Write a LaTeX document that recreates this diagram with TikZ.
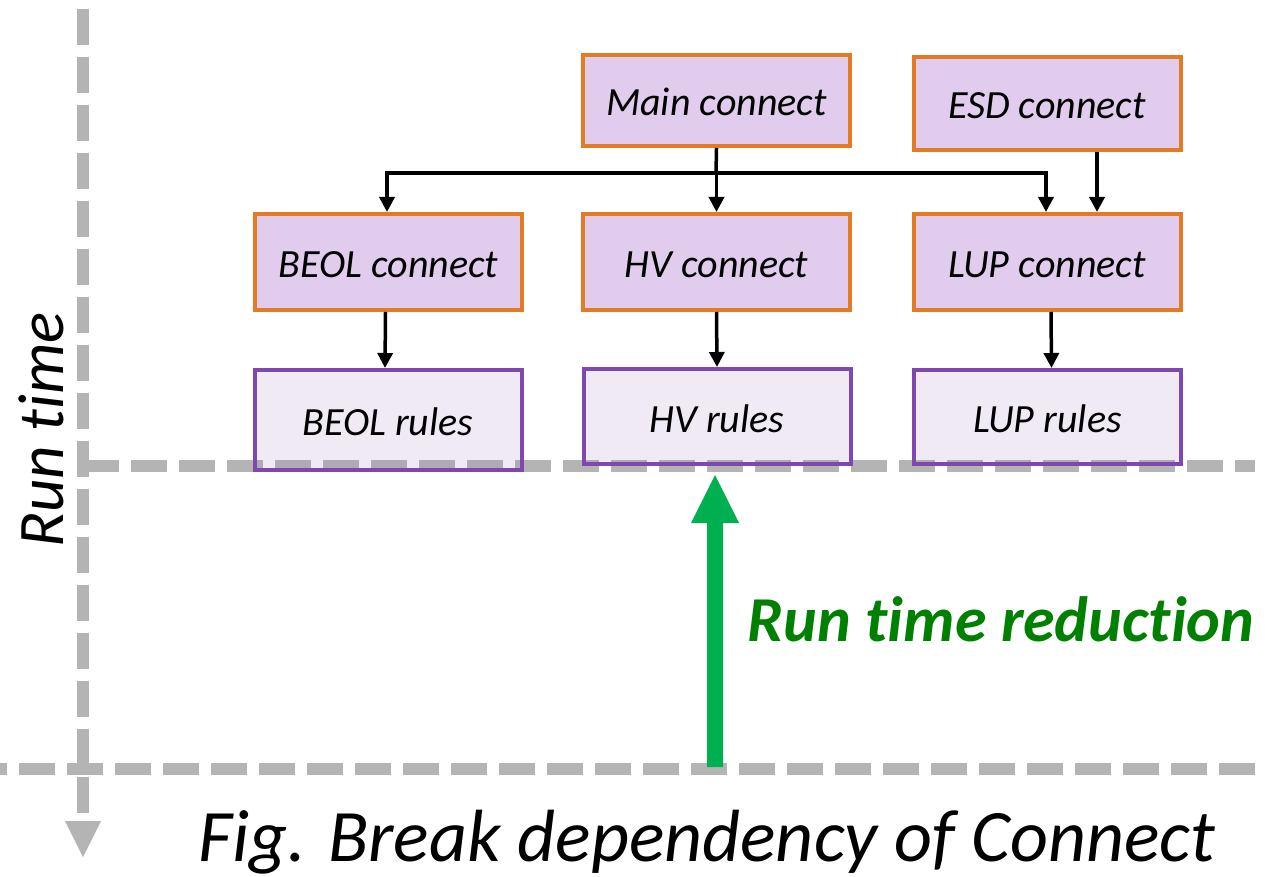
\documentclass[tikz,border=0pt]{standalone}
\usepackage{fontspec}
\setmainfont{Carlito}[Ligatures=NoCommon]
\usetikzlibrary{arrows.meta}
\definecolor{orangeC}{RGB}{226,123,36}
\definecolor{conFill}{RGB}{225,204,238}
\definecolor{purpleC}{RGB}{128,71,176}
\definecolor{ruleFill}{RGB}{155,115,188}
\definecolor{grayL}{RGB}{180,180,180}
\definecolor{greenA}{RGB}{0,176,80}
\definecolor{greenT}{RGB}{0,128,0}
\begin{document}
\begin{tikzpicture}[x=1pt,y=-1pt,
  boxtext/.style={inner sep=0pt, text height=31pt, text depth=0pt,
    font=\fontsize{40}{48}\selectfont\itshape},
  conbox/.style={boxtext, draw=orangeC, line width=4pt, fill=conFill,
    minimum width=267pt},
  rulebox/.style={boxtext, draw=purpleC, line width=4pt, fill=ruleFill,
    fill opacity=0.15, text opacity=1, minimum width=267pt},
  arr/.style={line width=3.5pt, -{Triangle[length=15pt,width=15pt]}},
  gdash/.style={draw=grayL, line width=12pt, dash pattern=on 36pt off 12pt}]
\useasboundingbox (0,0) rectangle (1281,877);
\fill[white] (0,0) rectangle (1281,877);

% axes
\draw[gdash] (83,9) -- (83,813);
\fill[grayL] (65,821) -- (101,821) -- (83,857) -- cycle;
\draw[gdash] (83,466) -- (1255,466);
\draw[gdash] (-29,769) -- (1255,769);

% boxes
\node[conbox, minimum height=91pt] (main) at (716.5,100.5) {Main connect};
\node[conbox, minimum height=93pt] (esd) at (1047,103.5) {ESD connect};
\node[conbox, minimum height=96pt] (beol) at (388.5,262) {BEOL connect};
\node[conbox, minimum height=96pt] (hv) at (716.5,262) {HV connect};
\node[conbox, minimum height=96pt] (lup) at (1047,262) {LUP connect};
\node[rulebox, minimum height=100pt] (beolr) at (388,420) {BEOL rules};
\node[rulebox, minimum height=95pt] (hvr) at (717,416.5) {HV rules};
\node[rulebox, minimum height=94pt] (lupr) at (1047.5,417) {LUP rules};

% connectors
\coordinate (j) at (716,173);
\draw[arr] (main.south) -- (hv.north);
\draw[line width=3.5pt] (main.south) -- (j);
\draw[arr] (j) -| ([xshift=-1.5pt]beol.north);
\draw[arr] (j) -| ([xshift=-1pt]lup.north);
\draw[arr] ([xshift=50pt]esd.south) -- ([xshift=50pt]lup.north);
\draw[arr] ([xshift=-3pt]beol.south) -- ([xshift=-3pt]beolr.north);
\draw[arr] (hv.south) -- (hvr.north);
\draw[arr] ([xshift=4pt]lup.south) -- ([xshift=4pt]lupr.north);

% green arrow
\fill[greenA] (707,767) -- (707,523) -- (691,523) -- (715,475) -- (739,523) -- (723,523) -- (723,767) -- cycle;

% labels
\node[font=\fontsize{65}{78}\selectfont\itshape, rotate=90, anchor=base] (ylab) at (63,430) {Run time};
\node[font=\fontsize{64}{77}\selectfont\bfseries\itshape, text=greenT, anchor=base] (red) at (1001,641) {Run time reduction};
\node[font=\fontsize{74}{89}\selectfont\itshape, anchor=base] (cap) at (707,861) {Fig. Break dependency of Connect};
\end{tikzpicture}
\end{document}
